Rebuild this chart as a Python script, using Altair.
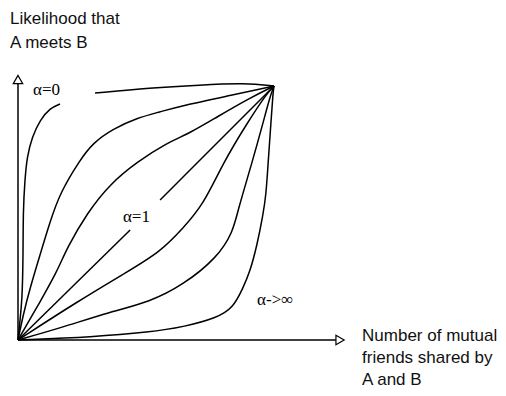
import altair as alt
import pandas as pd

# ---- curve data (normalised: 0,0 = origin, 1,1 = common end point) ----
A1_U = [0, 0.008, 0.016, 0.020, 0.020, 0.027, 0.035, 0.055, 0.086, 0.125, 0.164]
A1_V = [0, 0.079, 0.157, 0.315, 0.512, 0.630, 0.720, 0.799, 0.866, 0.913, 0.929]
A2_U = [0.301, 0.516, 0.711, 0.887, 1.0]
A2_V = [0.972, 0.992, 1.004, 1.012, 1.0]

B_U = [0, 0.020, 0.047, 0.086, 0.125, 0.164, 0.242, 0.293, 0.371, 0.465, 0.555, 0.633, 0.840, 1.0]
B_V = [0, 0.098, 0.205, 0.335, 0.465, 0.579, 0.709, 0.776, 0.831, 0.874, 0.898, 0.921, 0.965, 1.0]

C_U = [0, 0.086, 0.152, 0.191, 0.270, 0.359, 0.465, 0.582, 0.672, 0.777, 0.906, 1.0]
C_V = [0, 0.150, 0.268, 0.362, 0.500, 0.614, 0.701, 0.776, 0.815, 0.878, 0.953, 1.0]

D1_U = [0, 0.438]
D1_V = [0, 0.433]
D2_U = [0.555, 1.0]
D2_V = [0.551, 1.0]

E_U = [0, 0.230, 0.426, 0.555, 0.645, 0.723, 0.801, 0.895, 0.973, 1.0]
E_V = [0, 0.150, 0.268, 0.346, 0.441, 0.531, 0.697, 0.854, 0.972, 1.0]

F_U = [0, 0.164, 0.359, 0.516, 0.645, 0.777, 0.840, 0.859, 0.914, 0.957, 0.984, 1.0]
F_V = [0, 0.047, 0.110, 0.150, 0.217, 0.323, 0.425, 0.512, 0.697, 0.854, 0.957, 1.0]

G_U = [0, 0.293, 0.516, 0.645, 0.777, 0.840, 0.879, 0.906, 0.934, 0.957, 0.969, 0.977, 0.988, 0.996, 1.0]
G_V = [0, 0.012, 0.031, 0.051, 0.087, 0.126, 0.205, 0.268, 0.374, 0.492, 0.571, 0.697, 0.854, 0.972, 1.0]

# axes (drawn as arrows)
AXIS_Y_U = [0, 0]
AXIS_Y_V = [0, 1.009]
AXIS_X_U = [0, 1.242]
AXIS_X_V = [0, 0]
ARROW_U = [0, 1.258]
ARROW_V = [1.0256, 0]
ARROW_SHAPE = ["triangle-up", "triangle-right"]

# labels
CURVE_LABELS = ["α=0", "α=1", "α->∞"]
CURVE_LABEL_U = [0.059, 0.410, 0.934]
CURVE_LABEL_V = [0.965, 0.465, 0.138]

TITLE_LINES = ["Likelihood that", "A meets B",
               "Number of mutual", "friends shared by", "A and B"]
TITLE_U = [-0.031, -0.031, 1.344, 1.344, 1.344]
TITLE_V = [1.244, 1.150, -0.004, -0.091, -0.177]

segments = {
    "A1": (A1_U, A1_V), "A2": (A2_U, A2_V),
    "B": (B_U, B_V), "C": (C_U, C_V),
    "D1": (D1_U, D1_V), "D2": (D2_U, D2_V),
    "E": (E_U, E_V), "F": (F_U, F_V), "G": (G_U, G_V),
}
rows = []
for name, (us, vs) in segments.items():
    for i, (u, v) in enumerate(zip(us, vs)):
        rows.append({"seg": name, "i": i, "u": u, "v": v})
curves_df = pd.DataFrame(rows)

axes_rows = []
for name, (us, vs) in {"axisY": (AXIS_Y_U, AXIS_Y_V), "axisX": (AXIS_X_U, AXIS_X_V)}.items():
    for i, (u, v) in enumerate(zip(us, vs)):
        axes_rows.append({"seg": name, "i": i, "u": u, "v": v})
axes_df = pd.DataFrame(axes_rows)

arrows_df = pd.DataFrame({"u": ARROW_U, "v": ARROW_V, "shape": ARROW_SHAPE})
clabels_df = pd.DataFrame({"u": CURVE_LABEL_U, "v": CURVE_LABEL_V, "t": CURVE_LABELS})
titles_df = pd.DataFrame({"u": TITLE_U, "v": TITLE_V, "t": TITLE_LINES})

UMIN = -10 / 256
UMAX = UMIN + 490 / 256
VMIN = -(388 - 340) / 254
VMAX = (340 - 8) / 254

xs = alt.Scale(domain=[UMIN, UMAX], nice=False, zero=False)
ys = alt.Scale(domain=[VMIN, VMAX], nice=False, zero=False)
X = alt.X("u:Q", scale=xs, axis=None)
Y = alt.Y("v:Q", scale=ys, axis=None)

curves = alt.Chart(curves_df).mark_line(
    color="black", strokeWidth=1.5, interpolate="basis", clip=False
).encode(x=X, y=Y, detail="seg:N", order="i:Q")

axes = alt.Chart(axes_df).mark_line(
    color="black", strokeWidth=1.5, clip=False
).encode(x=X, y=Y, detail="seg:N", order="i:Q")

arrows = alt.Chart(arrows_df).mark_point(
    filled=True, fill="white", stroke="black", strokeWidth=1.2, size=90, opacity=1
).encode(x=X, y=Y, shape=alt.Shape("shape:N", scale=None))

clabels = alt.Chart(clabels_df).mark_text(
    align="left", baseline="alphabetic", font="Liberation Serif",
    fontSize=17, color="black"
).encode(x=X, y=Y, text="t:N")

titles = alt.Chart(titles_df).mark_text(
    align="left", baseline="alphabetic", font="Liberation Sans",
    fontSize=17, color="#111111"
).encode(x=X, y=Y, text="t:N")

chart = alt.layer(curves, axes, arrows, clabels, titles).properties(
    width=490, height=380, autosize="none", padding=0,
    background="white"
).configure_view(stroke=None)

chart.save("out.html", embed_options={"renderer": "svg", "actions": False})
